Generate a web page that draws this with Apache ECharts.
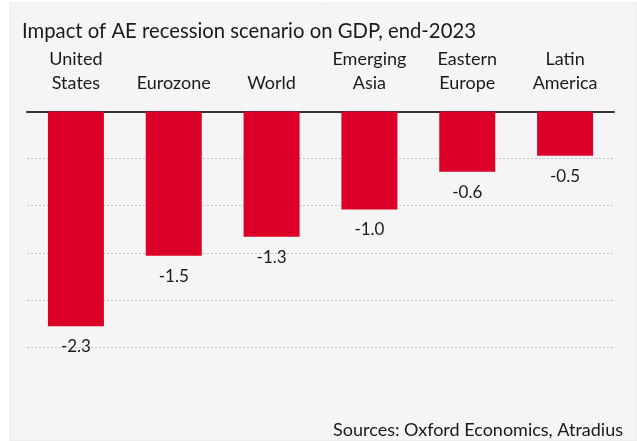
<!DOCTYPE html>
<html>
<head>
<meta charset="utf-8">
<script src="https://cdn.jsdelivr.net/npm/echarts@6/dist/echarts.min.js"></script>
<style>
  html, body { margin: 0; padding: 0; background: #fff; }
  #chart { width: 637px; height: 441px; }
</style>
</head>
<body>
<div id="chart"></div>
<script>
// data
const regions = ["United\nStates", "Eurozone", "World", "Emerging\nAsia", "Eastern\nEurope", "Latin\nAmerica"];
const gdpImpact = [-2.28, -1.53, -1.33, -1.04, -0.64, -0.47];
const yTicks = [-2.5, -2.0, -1.5, -1.0, -0.5, 0];

const FONT = "Lato";
const chart = echarts.init(document.getElementById("chart"));

const option = {
  backgroundColor: "#fff",
  animation: false,
  textStyle: { fontFamily: FONT },
  graphic: [
    // grey panel
    { type: "rect", z: -10, silent: true,
      shape: { x: 10, y: 3, width: 627, height: 438 },
      style: { fill: "#f5f5f5", stroke: "#e9e9e9", lineWidth: 1 } },
    { type: "text", x: 22, y: 31,
      style: { text: "Impact of AE recession scenario on GDP, end-2023",
               font: "20.3px " + FONT, fill: "#1a1a1a", verticalAlign: "middle" } },
    { type: "text", x: 623, y: 430,
      style: { text: "Sources: Oxford Economics, Atradius",
               font: "18px " + FONT, fill: "#1a1a1a", align: "right", verticalAlign: "middle" } }
  ],
  grid: { left: 27, right: 23, top: 111.5, bottom: 94 },
  xAxis: {
    type: "category",
    position: "top",
    data: regions,
    axisLine: { show: true, lineStyle: { color: "#333", width: 2 } },
    axisTick: { show: false },
    axisLabel: {
      interval: 0, margin: 16, fontSize: 18, lineHeight: 24,
      color: "#1a1a1a", fontFamily: FONT, verticalAlign: "bottom"
    }
  },
  yAxis: {
    type: "value",
    min: yTicks[0],
    max: yTicks[yTicks.length - 1],
    interval: 0.5,
    axisLine: { show: false },
    axisTick: { show: false },
    axisLabel: { show: false },
    splitLine: { lineStyle: { color: "#c4c4c4", width: 1, type: [2, 2] } }
  },
  series: [{
    type: "bar",
    data: gdpImpact,
    barWidth: 56,
    itemStyle: { color: "#dc0028" },
    label: {
      show: true,
      position: "bottom",
      distance: 12,
      fontSize: 17,
      color: "#1a1a1a",
      fontFamily: FONT,
      formatter: (p) => p.value.toFixed(1)
    }
  }]
};

chart.setOption(option);
</script>
</body>
</html>
